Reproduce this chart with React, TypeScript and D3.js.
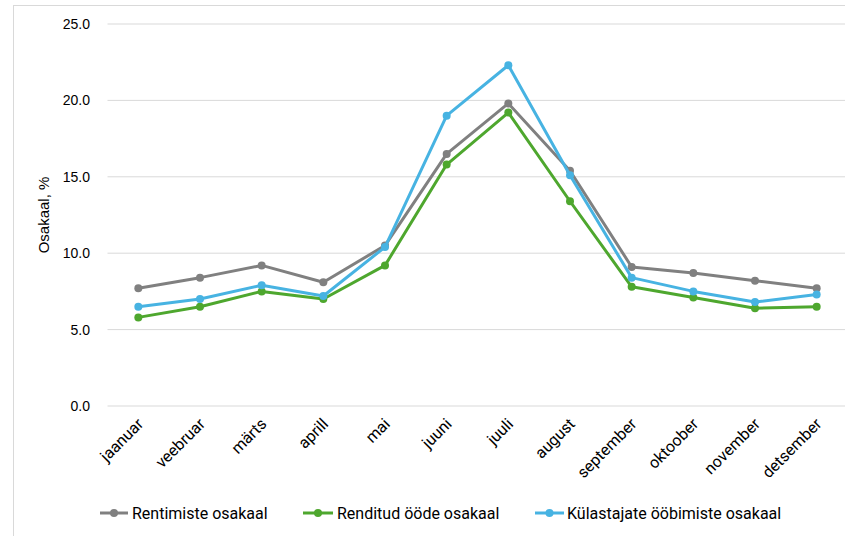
import React from "react";
import * as d3 from "d3";

const months = ["jaanuar","veebruar","märts","aprill","mai","juuni","juuli","august","september","oktoober","november","detsember"];
const rentimiste = [7.7, 8.4, 9.2, 8.1, 10.5, 16.5, 19.8, 15.4, 9.1, 8.7, 8.2, 7.7];
const renditud = [5.8, 6.5, 7.5, 7.0, 9.2, 15.8, 19.2, 13.4, 7.8, 7.1, 6.4, 6.5];
const kulastajate = [6.5, 7.0, 7.9, 7.2, 10.4, 19.0, 22.3, 15.1, 8.4, 7.5, 6.8, 7.3];
const yTicks = [0, 5, 10, 15, 20, 25];
const seriesNames = ["Rentimiste osakaal", "Renditud ööde osakaal", "Külastajate ööbimiste osakaal"];
const colors = ["#808080", "#4ea72e", "#47b3e2"];

const series = [
  { name: seriesNames[0], values: rentimiste, color: colors[0] },
  { name: seriesNames[1], values: renditud, color: colors[1] },
  { name: seriesNames[2], values: kulastajate, color: colors[2] },
];

export default function App() {
  const W = 845, H = 536;
  const x = d3.scaleBand<string>().domain(months).range([107.5, 847.5]).padding(0);
  const cx = (m: string) => (x(m) as number) + x.bandwidth() / 2;
  const y = d3.scaleLinear().domain([0, 25]).range([406, 24]);
  const line = d3.line<number>().x((_, i) => cx(months[i])).y((v) => y(v));
  const font = "'Liberation Sans', Arial, sans-serif";
  const legendItems = [
    { x1: 100, x2: 128, tx: 132 },
    { x1: 303, x2: 333, tx: 337 },
    { x1: 535, x2: 564, tx: 567 },
  ];
  return (
    <svg width={W} height={H} style={{ position: "absolute", left: 0, top: 0, background: "#fff" }}>
      <rect x={13.5} y={5.5} width={W} height={H} fill="#fff" stroke="#d9d9d9" strokeWidth={1} />
      {yTicks.map((t) => (
        <g key={t}>
          <line x1={107.5} x2={847.5} y1={y(t)} y2={y(t)} stroke="#d9d9d9" strokeWidth={1} />
          <text x={90} y={y(t)} dy="0.35em" textAnchor="end" fontFamily={font} fontSize={14} fill="#000">
            {d3.format(".1f")(t)}
          </text>
        </g>
      ))}
      <text transform={`translate(49,${y(12.5)}) rotate(-90)`} textAnchor="middle" fontFamily={font} fontSize={15} fill="#000">
        Osakaal, %
      </text>
      {months.map((m) => (
        <text key={m} transform={`translate(${cx(m) + 6},${425}) rotate(-45)`} textAnchor="end" fontFamily="Roboto, sans-serif" fontSize={16} fill="#000">
          {m}
        </text>
      ))}
      {series.map((s) => (
        <g key={s.name}>
          <path d={line(s.values) || ""} fill="none" stroke={s.color} strokeWidth={3} strokeLinejoin="round" strokeLinecap="round" />
          {s.values.map((v, i) => (
            <circle key={i} cx={cx(months[i])} cy={y(v)} r={4} fill={s.color} />
          ))}
        </g>
      ))}
      {series.map((s, i) => {
        const li = legendItems[i];
        return (
          <g key={s.name}>
            <line x1={li.x1} x2={li.x2} y1={513} y2={513} stroke={s.color} strokeWidth={3} />
            <circle cx={(li.x1 + li.x2) / 2} cy={513} r={4} fill={s.color} />
            <text x={li.tx} y={513} dy="0.35em" fontFamily="Roboto, sans-serif" fontSize={16} fill="#000">
              {s.name}
            </text>
          </g>
        );
      })}
    </svg>
  );
}
